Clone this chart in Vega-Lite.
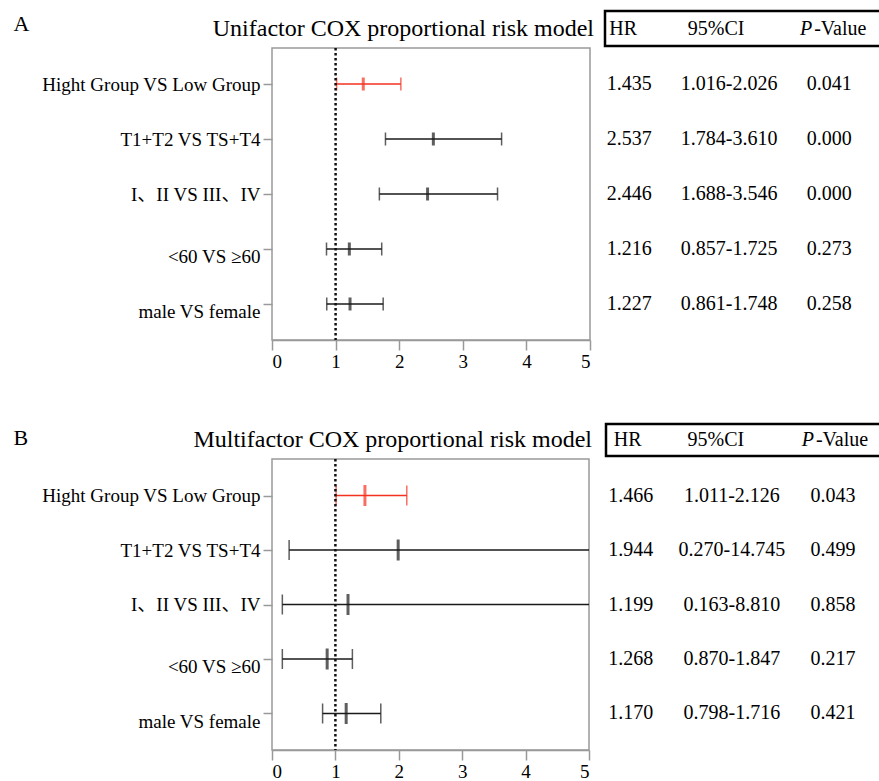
{
  "$schema": "https://vega.github.io/schema/vega-lite/v6.json",
  "padding": {"left": 12, "top": 9, "right": 0, "bottom": 0},
  "spacing": 50,
  "config": {
    "font": "Liberation Serif, Noto Sans CJK SC",
    "view": {"stroke": null},
    "text": {"font": "Liberation Serif, Noto Sans CJK SC", "color": "#000"},
    "axis": {
      "labelFont": "Liberation Serif, Noto Sans CJK SC",
      "labelFontSize": 19,
      "labelColor": "#000",
      "tickColor": "#999",
      "domainColor": "#999",
      "tickWidth": 1.5,
      "domainWidth": 1.5,
      "grid": false,
      "labelLimit": 400
    }
  },
  "datasets": {
    "A": [
      {"label": "Hight Group VS Low Group", "kind": "focus", "est": 1.435, "lo": 1.016, "hi": 2.026, "HR": "1.435", "95%CI": "1.016-2.026", "P-Value": "0.041"},
      {"label": "T1+T2 VS TS+T4", "kind": "other", "est": 2.537, "lo": 1.784, "hi": 3.610, "HR": "2.537", "95%CI": "1.784-3.610", "P-Value": "0.000"},
      {"label": "I、II VS III、IV", "kind": "other", "est": 2.446, "lo": 1.688, "hi": 3.546, "HR": "2.446", "95%CI": "1.688-3.546", "P-Value": "0.000"},
      {"label": "<60 VS ≥60", "kind": "other", "est": 1.216, "lo": 0.857, "hi": 1.725, "HR": "1.216", "95%CI": "0.857-1.725", "P-Value": "0.273"},
      {"label": "male VS female", "kind": "other", "est": 1.227, "lo": 0.861, "hi": 1.748, "HR": "1.227", "95%CI": "0.861-1.748", "P-Value": "0.258"}
    ],
    "B": [
      {"label": "Hight Group VS Low Group", "kind": "focus", "est": 1.466, "lo": 1.011, "hi": 2.126, "HR": "1.466", "95%CI": "1.011-2.126", "P-Value": "0.043"},
      {"label": "T1+T2 VS TS+T4", "kind": "other", "est": 1.99, "lo": 0.270, "hi": 14.745, "HR": "1.944", "95%CI": "0.270-14.745", "P-Value": "0.499"},
      {"label": "I、II VS III、IV", "kind": "other", "est": 1.199, "lo": 0.163, "hi": 8.810, "HR": "1.199", "95%CI": "0.163-8.810", "P-Value": "0.858"},
      {"label": "<60 VS ≥60", "kind": "other", "est": 0.870, "lo": 0.163, "hi": 1.268, "HR": "1.268", "95%CI": "0.870-1.847", "P-Value": "0.217"},
      {"label": "male VS female", "kind": "other", "est": 1.170, "lo": 0.798, "hi": 1.716, "HR": "1.170", "95%CI": "0.798-1.716", "P-Value": "0.421"}
    ],
    "cols": [{"col": "HR"}, {"col": "95%CI"}, {"col": "P-Value"}]
  },
  "vconcat": [
    {
      "columns": 2,
      "bounds": "flush",
      "align": "each",
      "spacing": {"row": 2, "column": 15},
      "concat": [
        {
          "width": 318, "height": 35,
          "data": {"values": [{"t": "Unifactor COX proportional risk model"}]},
          "mark": {"type": "text", "align": "right", "baseline": "middle", "fontSize": 24, "dx": 4},
          "encoding": {"x": {"value": "width"}, "text": {"field": "t"}}
        },
        {
          "width": 278, "height": 35,
          "view": {"stroke": "#000", "strokeWidth": 2.5},
          "data": {"name": "cols"},
          "encoding": {"x": {"field": "col", "type": "nominal", "scale": {"type": "point", "domain": ["HR", "95%CI", "P-Value"], "padding": 0.39, "align": 0.31}, "axis": null}},
          "layer": [
            {"transform": [{"filter": "datum.col == 'HR'"}], "mark": {"type": "text", "fontSize": 20, "baseline": "middle", "dx": -6}, "encoding": {"text": {"field": "col"}}},
            {"transform": [{"filter": "datum.col == '95%CI'"}], "mark": {"type": "text", "fontSize": 20, "baseline": "middle", "dx": -13}, "encoding": {"text": {"field": "col"}}},
            {"transform": [{"filter": "datum.col == 'P-Value'"}], "mark": {"type": "text", "fontSize": 20, "baseline": "middle", "align": "right", "fontStyle": "italic", "dx": -17}, "encoding": {"text": {"value": "P"}}},
            {"transform": [{"filter": "datum.col == 'P-Value'"}], "mark": {"type": "text", "fontSize": 20, "baseline": "middle", "align": "left", "dx": -15}, "encoding": {"text": {"value": "-Value"}}}
          ]
        },
        {
          "width": 318, "height": 292,
          "view": {"stroke": "#999", "strokeWidth": 1.5},
          "data": {"name": "A"},
          "layer": [
            {
              "mark": {"type": "rule", "strokeWidth": 1.5, "clip": true},
              "encoding": {
                "x": {"field": "lo", "type": "quantitative", "scale": {"domain": [0, 5], "nice": false, "zero": false}, "axis": {"values": [0, 1, 2, 3, 4, 5], "format": "d", "title": null, "tickSize": 10, "labelPadding": 2}},
                "x2": {"field": "hi"},
                "y": {"field": "label", "type": "nominal", "sort": null, "scale": {"type": "point", "padding": 0.655},
                  "axis": {"title": "A", "titleAngle": 0, "titleX": -259, "titleY": -25, "titleAlign": "left", "titleBaseline": "middle", "titleFont": "Liberation Serif", "titleFontSize": 22, "titleFontWeight": "normal", "titleColor": "#000", "domain": false, "tickSize": 9, "labelPadding": 3,
                    "labelOffset": {"condition": {"test": "datum.value == '<60 VS ≥60' || datum.value == 'male VS female'", "value": 8}, "value": 0}}},
                "color": {"field": "kind", "type": "nominal", "scale": {"domain": ["focus", "other"], "range": ["#f5311f", "#1a1a1a"]}, "legend": null}
              }
            },
            {
              "mark": {"type": "tick", "thickness": 1.5, "size": 13, "clip": true},
              "encoding": {"x": {"field": "lo", "type": "quantitative"}, "y": {"field": "label", "type": "nominal", "sort": null}, "color": {"field": "kind", "type": "nominal", "legend": null}}
            },
            {
              "mark": {"type": "tick", "thickness": 1.5, "size": 13, "clip": true},
              "encoding": {"x": {"field": "hi", "type": "quantitative"}, "y": {"field": "label", "type": "nominal", "sort": null}, "color": {"field": "kind", "type": "nominal", "legend": null}}
            },
            {
              "mark": {"type": "tick", "thickness": 3, "size": 13, "clip": true},
              "encoding": {"x": {"field": "est", "type": "quantitative"}, "y": {"field": "label", "type": "nominal", "sort": null}, "color": {"field": "kind", "type": "nominal", "legend": null}}
            },
            {
              "data": {"values": [{"ref": 1}]},
              "mark": {"type": "rule", "strokeDash": [2.5, 2.5], "strokeWidth": 2.5, "color": "#111"},
              "encoding": {"x": {"field": "ref", "type": "quantitative"}}
            }
          ]
        },
        {
          "width": 278, "height": 292,
          "data": {"name": "A"},
          "transform": [{"fold": ["HR", "95%CI", "P-Value"]}],
          "mark": {"type": "text", "fontSize": 20, "baseline": "middle"},
          "encoding": {
            "x": {"field": "key", "type": "nominal", "scale": {"type": "point", "domain": ["HR", "95%CI", "P-Value"], "padding": 0.39, "align": 0.31}, "axis": null},
            "y": {"field": "label", "type": "nominal", "sort": null, "scale": {"type": "point", "padding": 0.655}, "axis": null},
            "text": {"field": "value"}
          }
        }
      ]
    },
    {
      "columns": 2,
      "bounds": "flush",
      "align": "each",
      "spacing": {"row": 3, "column": 17},
      "concat": [
        {
          "width": 317, "height": 32,
          "data": {"values": [{"t": "Multifactor COX proportional risk model"}]},
          "mark": {"type": "text", "align": "right", "baseline": "middle", "fontSize": 24, "dx": 3},
          "encoding": {"x": {"value": "width"}, "text": {"field": "t"}}
        },
        {
          "width": 275, "height": 32,
          "view": {"stroke": "#000", "strokeWidth": 2.5},
          "data": {"name": "cols"},
          "encoding": {"x": {"field": "col", "type": "nominal", "scale": {"type": "point", "domain": ["HR", "95%CI", "P-Value"], "padding": 0.36, "align": 0.34}, "axis": null}},
          "layer": [
            {"transform": [{"filter": "datum.col == 'HR'"}], "mark": {"type": "text", "fontSize": 20, "baseline": "middle", "dx": -3}, "encoding": {"text": {"field": "col"}}},
            {"transform": [{"filter": "datum.col == '95%CI'"}], "mark": {"type": "text", "fontSize": 20, "baseline": "middle", "dx": -16}, "encoding": {"text": {"field": "col"}}},
            {"transform": [{"filter": "datum.col == 'P-Value'"}], "mark": {"type": "text", "fontSize": 20, "baseline": "middle", "align": "right", "fontStyle": "italic", "dx": -19}, "encoding": {"text": {"value": "P"}}},
            {"transform": [{"filter": "datum.col == 'P-Value'"}], "mark": {"type": "text", "fontSize": 20, "baseline": "middle", "align": "left", "dx": -17}, "encoding": {"text": {"value": "-Value"}}}
          ]
        },
        {
          "width": 317, "height": 291,
          "view": {"stroke": "#999", "strokeWidth": 1.5},
          "data": {"name": "B"},
          "layer": [
            {
              "mark": {"type": "rule", "strokeWidth": 1.5, "clip": true},
              "encoding": {
                "x": {"field": "lo", "type": "quantitative", "scale": {"domain": [0, 5], "nice": false, "zero": false}, "axis": {"values": [0, 1, 2, 3, 4, 5], "format": "d", "title": null, "tickSize": 10, "labelPadding": 2}},
                "x2": {"field": "hi"},
                "y": {"field": "label", "type": "nominal", "sort": null, "scale": {"type": "point", "padding": 0.67},
                  "axis": {"title": "B", "titleAngle": 0, "titleX": -259, "titleY": -22, "titleAlign": "left", "titleBaseline": "middle", "titleFont": "Liberation Serif", "titleFontSize": 22, "titleFontWeight": "normal", "titleColor": "#000", "domain": false, "tickSize": 9, "labelPadding": 3,
                    "labelOffset": {"condition": {"test": "datum.value == '<60 VS ≥60' || datum.value == 'male VS female'", "value": 8}, "value": 0}}},
                "color": {"field": "kind", "type": "nominal", "scale": {"domain": ["focus", "other"], "range": ["#f7665a", "#1a1a1a"]}, "legend": null}
              }
            },
            {
              "mark": {"type": "tick", "thickness": 1.5, "size": 20, "clip": true},
              "encoding": {"x": {"field": "lo", "type": "quantitative"}, "y": {"field": "label", "type": "nominal", "sort": null}, "color": {"field": "kind", "type": "nominal", "legend": null}}
            },
            {
              "mark": {"type": "tick", "thickness": 1.5, "size": 20, "clip": true},
              "encoding": {"x": {"field": "hi", "type": "quantitative"}, "y": {"field": "label", "type": "nominal", "sort": null}, "color": {"field": "kind", "type": "nominal", "legend": null}}
            },
            {
              "mark": {"type": "tick", "thickness": 3, "size": 21, "clip": true},
              "encoding": {"x": {"field": "est", "type": "quantitative"}, "y": {"field": "label", "type": "nominal", "sort": null}, "color": {"field": "kind", "type": "nominal", "legend": null}}
            },
            {
              "data": {"values": [{"ref": 1}]},
              "mark": {"type": "rule", "strokeDash": [2.5, 2.5], "strokeWidth": 2.5, "color": "#111"},
              "encoding": {"x": {"field": "ref", "type": "quantitative"}}
            }
          ]
        },
        {
          "width": 275, "height": 291,
          "data": {"name": "B"},
          "transform": [{"fold": ["HR", "95%CI", "P-Value"]}],
          "mark": {"type": "text", "fontSize": 20, "baseline": "middle"},
          "encoding": {
            "x": {"field": "key", "type": "nominal", "scale": {"type": "point", "domain": ["HR", "95%CI", "P-Value"], "padding": 0.36, "align": 0.34}, "axis": null},
            "y": {"field": "label", "type": "nominal", "sort": null, "scale": {"type": "point", "padding": 0.67}, "axis": null},
            "text": {"field": "value"}
          }
        }
      ]
    }
  ]
}
